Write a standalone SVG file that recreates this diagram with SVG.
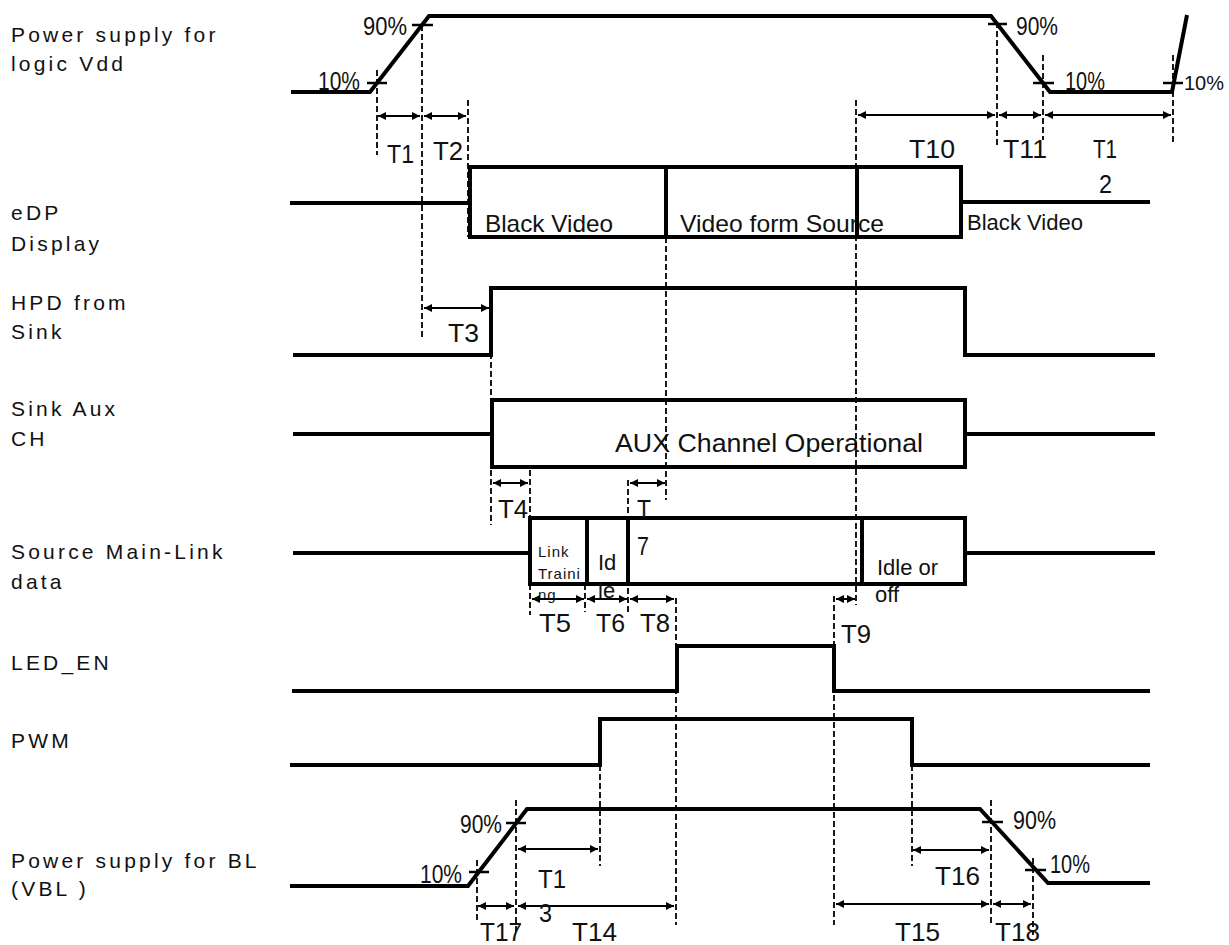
<svg xmlns="http://www.w3.org/2000/svg" width="1229" height="945" viewBox="0 0 1229 945">
<defs>
<marker id="ah" viewBox="0 0 10 10" refX="10" refY="5" markerWidth="9" markerHeight="8" markerUnits="userSpaceOnUse" orient="auto-start-reverse"><path d="M0,0 L10,5 L0,10 z" fill="#000"/></marker>
<style>
.sig{fill:none;stroke:#000;stroke-width:4;stroke-linejoin:miter}
.tick{stroke:#000;stroke-width:2.5}
.dash{stroke:#000;stroke-width:1.8;stroke-dasharray:6 3;fill:none}
.arr{stroke:#000;stroke-width:2;marker-start:url(#ah);marker-end:url(#ah)}
.lbl{font-family:"Liberation Sans",Arial,sans-serif;font-size:21px;letter-spacing:3.2px;fill:#111}
.t{font-family:"Liberation Sans",Arial,sans-serif;font-size:26px;fill:#111}
.pct{font-family:"Liberation Sans",Arial,sans-serif;font-size:25px;fill:#111}
.box{font-family:"Liberation Sans",Arial,sans-serif;font-size:24px;fill:#111}
.sm{font-family:"Liberation Sans",Arial,sans-serif;font-size:15px;letter-spacing:1px;fill:#111}
.md{font-family:"Liberation Sans",Arial,sans-serif;font-size:22px;fill:#111}
</style>
</defs>

<g id="labels">
<text class="lbl" x="11" y="42">Power supply for</text>
<text class="lbl" x="11" y="71">logic Vdd</text>
<text class="lbl" x="11" y="220">eDP</text>
<text class="lbl" x="11" y="251">Display</text>
<text class="lbl" x="11" y="310">HPD from</text>
<text class="lbl" x="11" y="339">Sink</text>
<text class="lbl" x="11" y="416">Sink Aux</text>
<text class="lbl" x="11" y="446">CH</text>
<text class="lbl" x="11" y="559">Source Main-Link</text>
<text class="lbl" x="11" y="589">data</text>
<text class="lbl" x="11" y="670">LED_EN</text>
<text class="lbl" x="11" y="748">PWM</text>
<text class="lbl" x="11" y="868">Power supply for BL</text>
<text class="lbl" x="11" y="896">(VBL )</text>
</g>

<g id="vdd">
<path class="sig" d="M291,92 H370 L429,16 H991 L1050,92 H1172 L1187,15"/>
<line class="tick" x1="367" y1="83" x2="387" y2="83"/>
<line class="tick" x1="412" y1="25" x2="433" y2="25"/>
<line class="tick" x1="988" y1="24" x2="1007" y2="24"/>
<line class="tick" x1="1033" y1="83" x2="1054" y2="83"/>
<line class="tick" x1="1163" y1="83" x2="1183" y2="83"/>
<text class="pct" x="363" y="35" textLength="44" lengthAdjust="spacingAndGlyphs">90%</text>
<text class="pct" x="318" y="90" textLength="42" lengthAdjust="spacingAndGlyphs">10%</text>
<text class="pct" x="1016" y="35" textLength="42" lengthAdjust="spacingAndGlyphs">90%</text>
<text class="pct" x="1065" y="90" textLength="40" lengthAdjust="spacingAndGlyphs">10%</text>
<text class="pct" x="1184" y="90" textLength="40" lengthAdjust="spacingAndGlyphs" style="font-size:21px">10%</text>
</g>

<g id="edp">
<path class="sig" d="M290,203 H470"/>
<rect class="sig" x="470" y="167" width="491" height="70"/>
<line class="sig" x1="666" y1="167" x2="666" y2="237"/>
<line class="sig" x1="857" y1="167" x2="857" y2="237"/>
<path class="sig" d="M961,202 H1150"/>
<text class="box" x="485" y="232" textLength="128" lengthAdjust="spacingAndGlyphs">Black Video</text>
<text class="box" x="680" y="232" textLength="204" lengthAdjust="spacingAndGlyphs">Video form Source</text>
<text class="md" x="967" y="230" textLength="116" lengthAdjust="spacingAndGlyphs">Black Video</text>
</g>

<g id="hpd">
<path class="sig" d="M293,355 H491 V288 H965 V355 H1155"/>
</g>

<g id="aux">
<path class="sig" d="M293,434 H492"/>
<rect class="sig" x="492" y="400" width="473" height="67"/>
<path class="sig" d="M965,434 H1155"/>
<text class="box" x="615" y="452" textLength="308" lengthAdjust="spacingAndGlyphs" style="font-size:25px">AUX Channel Operational</text>
</g>

<g id="mainlink">
<path class="sig" d="M293,553 H530"/>
<rect class="sig" x="530" y="518" width="435" height="66"/>
<line class="sig" x1="587" y1="518" x2="587" y2="584"/>
<line class="sig" x1="628" y1="518" x2="628" y2="584"/>
<line class="sig" x1="862" y1="518" x2="862" y2="584"/>
<path class="sig" d="M965,553 H1155"/>
<text class="sm" x="538" y="557">Link</text>
<text class="sm" x="538" y="579">Traini</text>
<text class="sm" x="538" y="600">ng</text>
<text class="md" x="598" y="570">Id</text>
<text class="md" x="598" y="598">le</text>
<text class="md" x="877" y="575">Idle or</text>
<text class="md" x="875" y="602">off</text>
</g>

<g id="leden">
<path class="sig" d="M292,691 H677 V646 H834 V691 H1150"/>
</g>

<g id="pwm">
<path class="sig" d="M290,765 H600 V719 H912 V765 H1150"/>
</g>

<g id="vbl">
<path class="sig" d="M290,886 H468 L527,809 H980 L1048,883 H1150"/>
<line class="tick" x1="469" y1="872" x2="489" y2="872"/>
<line class="tick" x1="506" y1="823" x2="526" y2="823"/>
<line class="tick" x1="982" y1="822" x2="1003" y2="822"/>
<line class="tick" x1="1025" y1="870" x2="1046" y2="870"/>
<text class="pct" x="460" y="833" textLength="42" lengthAdjust="spacingAndGlyphs">90%</text>
<text class="pct" x="420" y="883" textLength="42" lengthAdjust="spacingAndGlyphs">10%</text>
<text class="pct" x="1013" y="829" textLength="43" lengthAdjust="spacingAndGlyphs">90%</text>
<text class="pct" x="1050" y="873" textLength="40" lengthAdjust="spacingAndGlyphs">10%</text>
</g>

<g id="connectors">
<line class="dash" x1="377" y1="70" x2="377" y2="155"/>
<line class="dash" x1="422" y1="25" x2="422" y2="338"/>
<line class="dash" x1="468" y1="100" x2="468" y2="237"/>
<line class="dash" x1="856" y1="100" x2="856" y2="605"/>
<line class="dash" x1="997" y1="22" x2="997" y2="148"/>
<line class="dash" x1="1043" y1="55" x2="1043" y2="140"/>
<line class="dash" x1="1173" y1="55" x2="1173" y2="145"/>
<line class="dash" x1="666" y1="237" x2="666" y2="500"/>
<line class="dash" x1="491" y1="290" x2="491" y2="525"/>
<line class="dash" x1="530" y1="470" x2="530" y2="518"/>
<line class="dash" x1="530" y1="584" x2="530" y2="615"/>
<line class="dash" x1="628" y1="480" x2="628" y2="612"/>
<line class="dash" x1="585" y1="584" x2="585" y2="612"/>
<line class="dash" x1="676" y1="598" x2="676" y2="925"/>
<line class="dash" x1="834" y1="596" x2="834" y2="925"/>
<line class="dash" x1="600" y1="765" x2="600" y2="866"/>
<line class="dash" x1="912" y1="765" x2="912" y2="866"/>
<line class="dash" x1="477" y1="860" x2="477" y2="920"/>
<line class="dash" x1="516" y1="800" x2="516" y2="935"/>
<line class="dash" x1="991" y1="800" x2="991" y2="925"/>
<line class="dash" x1="1033" y1="858" x2="1033" y2="935"/>

<line class="arr" x1="378" y1="116" x2="420" y2="116"/>
<line class="arr" x1="424" y1="116" x2="466" y2="116"/>
<line class="arr" x1="858" y1="115" x2="995" y2="115"/>
<line class="arr" x1="999" y1="115" x2="1041" y2="115"/>
<line class="arr" x1="1045" y1="115" x2="1171" y2="115"/>
<line class="arr" x1="424" y1="308" x2="489" y2="308"/>
<line class="arr" x1="493" y1="483" x2="528" y2="483"/>
<line class="arr" x1="630" y1="483" x2="665" y2="483"/>
<line class="arr" x1="532" y1="599" x2="584" y2="599"/>
<line class="arr" x1="587" y1="599" x2="627" y2="599"/>
<line class="arr" x1="630" y1="599" x2="674" y2="599"/>
<line class="arr" x1="836" y1="599" x2="855" y2="599"/>
<line class="arr" x1="518" y1="849" x2="598" y2="849"/>
<line class="arr" x1="478" y1="906" x2="514" y2="906"/>
<line class="arr" x1="518" y1="906" x2="674" y2="906"/>
<line class="arr" x1="913" y1="850" x2="989" y2="850"/>
<line class="arr" x1="836" y1="904" x2="989" y2="904"/>
<line class="arr" x1="993" y1="904" x2="1031" y2="904"/>

<text class="t" x="387" y="163" textLength="27" lengthAdjust="spacingAndGlyphs">T1</text>
<text class="t" x="433" y="160" textLength="30" lengthAdjust="spacingAndGlyphs">T2</text>
<text class="t" x="909" y="158" textLength="46" lengthAdjust="spacingAndGlyphs">T10</text>
<text class="t" x="1003" y="158" textLength="44" lengthAdjust="spacingAndGlyphs">T11</text>
<text class="t" x="1093" y="158" textLength="24" lengthAdjust="spacingAndGlyphs">T1</text>
<text class="t" x="1099" y="193" textLength="13" lengthAdjust="spacingAndGlyphs">2</text>
<text class="t" x="448" y="342" textLength="31" lengthAdjust="spacingAndGlyphs">T3</text>
<text class="t" x="498" y="518" textLength="30" lengthAdjust="spacingAndGlyphs">T4</text>
<text class="t" x="637" y="518" textLength="14" lengthAdjust="spacingAndGlyphs">T</text>
<text class="t" x="637" y="555" textLength="12" lengthAdjust="spacingAndGlyphs">7</text>
<text class="t" x="539" y="632" textLength="32" lengthAdjust="spacingAndGlyphs">T5</text>
<text class="t" x="596" y="632" textLength="29" lengthAdjust="spacingAndGlyphs">T6</text>
<text class="t" x="640" y="632" textLength="30" lengthAdjust="spacingAndGlyphs">T8</text>
<text class="t" x="841" y="643" textLength="30" lengthAdjust="spacingAndGlyphs">T9</text>
<text class="t" x="538" y="888" textLength="28" lengthAdjust="spacingAndGlyphs">T1</text>
<text class="t" x="539" y="922" textLength="13" lengthAdjust="spacingAndGlyphs">3</text>
<text class="t" x="480" y="941" textLength="42" lengthAdjust="spacingAndGlyphs">T17</text>
<text class="t" x="572" y="941" textLength="45" lengthAdjust="spacingAndGlyphs">T14</text>
<text class="t" x="935" y="885" textLength="45" lengthAdjust="spacingAndGlyphs">T16</text>
<text class="t" x="895" y="941" textLength="45" lengthAdjust="spacingAndGlyphs">T15</text>
<text class="t" x="995" y="941" textLength="45" lengthAdjust="spacingAndGlyphs">T18</text>
</g>
</svg>
